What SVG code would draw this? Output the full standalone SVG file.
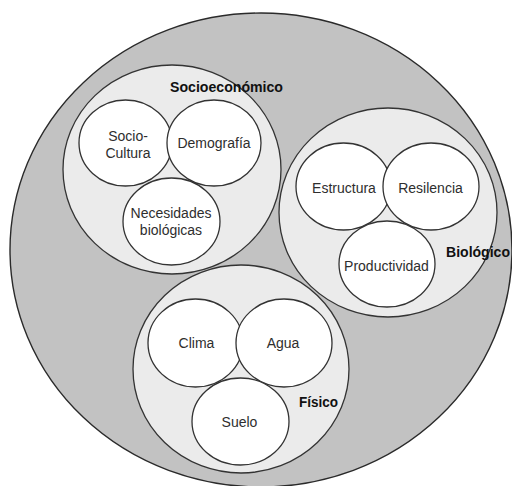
<svg xmlns="http://www.w3.org/2000/svg" width="512" height="486" viewBox="0 0 512 486">
<style>
.outer{fill:#c2c2c2;stroke:#2a2a2a;stroke-width:1.4}
.group{fill:#ebebeb;stroke:#333;stroke-width:1.3}
.item{fill:#ffffff;stroke:#333;stroke-width:1.3}
.t{font-family:"Liberation Sans",Arial,sans-serif;font-size:14px;fill:#2e2e2e;text-anchor:middle}
.b{font-family:"Liberation Sans",Arial,sans-serif;font-size:14.5px;font-weight:bold;fill:#111;text-anchor:middle}
</style>
<rect width="512" height="486" fill="#ffffff"/>
<g id="sistema">
<ellipse class="outer" cx="261" cy="250" rx="251" ry="237"/>
</g>
<g id="socioeconomico">
<ellipse class="group" cx="172" cy="169.5" rx="109" ry="104.5"/>
</g>
<g id="biologico">
<ellipse class="group" cx="388" cy="212.5" rx="109" ry="104.5"/>
</g>
<g id="fisico">
<ellipse class="group" cx="241" cy="369" rx="108" ry="104"/>
</g>
<g id="socio-cultura">
<ellipse class="item" cx="125.5" cy="143" rx="46.5" ry="43"/>
<text class="t" x="128" y="141">Socio-</text>
<text class="t" x="128" y="157.5">Cultura</text>
</g>
<g id="demografia">
<ellipse class="item" cx="214" cy="143" rx="47" ry="43"/>
<text class="t" x="214" y="148">Demografía</text>
</g>
<g id="necesidades">
<ellipse class="item" cx="171.5" cy="221.5" rx="48.5" ry="43.5"/>
<text class="t" x="171" y="218">Necesidades</text>
<text class="t" x="171" y="234.5">biológicas</text>
</g>
<g id="estructura">
<ellipse class="item" cx="343.5" cy="186.5" rx="47.5" ry="43.5"/>
<text class="t" x="344" y="192.5">Estructura</text>
</g>
<g id="resilencia">
<ellipse class="item" cx="431" cy="186.5" rx="48" ry="43.5"/>
<text class="t" x="430.5" y="192.5">Resilencia</text>
</g>
<g id="productividad">
<ellipse class="item" cx="387" cy="264" rx="48" ry="43"/>
<text class="t" x="386.5" y="270.5">Productividad</text>
</g>
<g id="clima">
<ellipse class="item" cx="195.5" cy="343" rx="47.5" ry="44"/>
<text class="t" x="196.5" y="348">Clima</text>
</g>
<g id="agua">
<ellipse class="item" cx="284" cy="343" rx="48" ry="44"/>
<text class="t" x="283" y="348">Agua</text>
</g>
<g id="suelo">
<ellipse class="item" cx="240.5" cy="421.5" rx="48.5" ry="43.5"/>
<text class="t" x="239.5" y="427">Suelo</text>
</g>
<g id="labels">
<text class="b" x="226.5" y="92" textLength="113" lengthAdjust="spacingAndGlyphs">Socioeconómico</text>
<text class="b" x="478" y="257" textLength="64" lengthAdjust="spacingAndGlyphs">Biológico</text>
<text class="b" x="318.5" y="407" textLength="39" lengthAdjust="spacingAndGlyphs">Físico</text>
</g>
</svg>
